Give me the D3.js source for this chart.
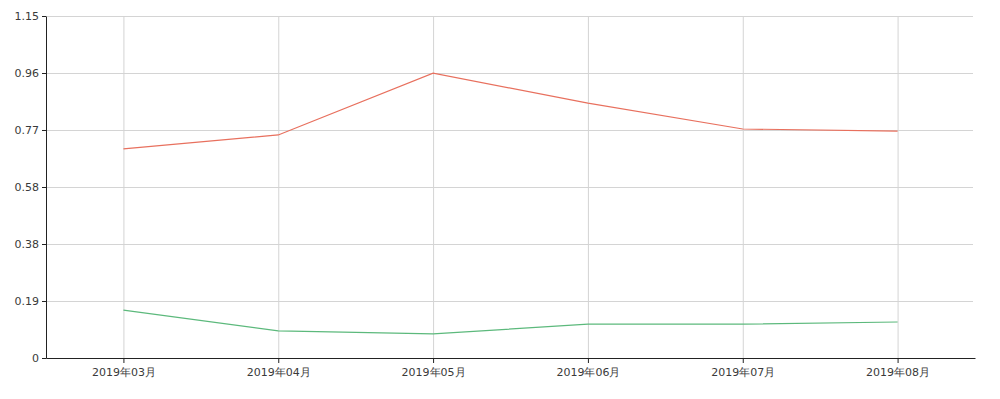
<!DOCTYPE html>
<html lang="zh">
<head>
<meta charset="UTF-8">
<title>Line chart</title>
<script src="https://d3js.org/d3.v7.min.js"></script>
<style>
    body { margin: 0; background: #fff; }
    .grid line { stroke: #d4d4d4; stroke-width: 1; }
    .grid path { display: none; }
    .axis text { fill: #3a3a3a; font-size: 11px; font-family: "DejaVu Sans", Verdana, sans-serif; }
    .axis path, .axis line { stroke: #222; }
</style>
</head>
<body>
<div id="chart"></div>
<script>
var months = ["2019年03月", "2019年04月", "2019年05月", "2019年06月", "2019年07月", "2019年08月"];
var redValues = [0.703, 0.750, 0.958, 0.857, 0.770, 0.763];
var greenValues = [0.161, 0.091, 0.081, 0.114, 0.114, 0.121];
var yTicks = [0, 0.1917, 0.3833, 0.575, 0.7667, 0.9583, 1.15];
var yLabels = ["0", "0.19", "0.38", "0.58", "0.77", "0.96", "1.15"];

var width = 1000, height = 399;
var margin = {top: 16, right: 25, bottom: 41, left: 46};

var svg = d3.select("#chart").append("svg")
    .attr("width", width)
    .attr("height", height);

var x = d3.scalePoint()
    .domain(months)
    .range([margin.left, width - margin.right])
    .padding(0.5);

var y = d3.scaleLinear()
    .domain([0, 1.15])
    .range([height - margin.bottom, margin.top]);

// horizontal grid
svg.append("g")
    .attr("class", "grid")
    .attr("transform", `translate(${margin.left},0)`)
    .call(d3.axisLeft(y).tickValues(yTicks).tickSize(-(width - margin.left - margin.right - 2)).tickFormat(""));

// vertical grid
svg.append("g")
    .attr("class", "grid")
    .attr("transform", `translate(0,${height - margin.bottom})`)
    .call(d3.axisBottom(x).tickSize(-(height - margin.top - margin.bottom)).tickFormat(""));

var line = d3.line()
    .x((d, i) => x(months[i]))
    .y(d => y(d));

svg.append("path")
    .datum(redValues)
    .attr("fill", "none")
    .attr("stroke", "#e8705e")
    .attr("stroke-width", 1.2)
    .attr("d", line);

svg.append("path")
    .datum(greenValues)
    .attr("fill", "none")
    .attr("stroke", "#5cb97c")
    .attr("stroke-width", 1.2)
    .attr("d", line);

svg.append("g")
    .attr("class", "axis")
    .attr("transform", `translate(0,${height - margin.bottom})`)
    .call(d3.axisBottom(x).tickSize(5).tickSizeOuter(0))
    .selectAll("text").attr("dy", "0.9em");

svg.append("g")
    .attr("class", "axis")
    .attr("transform", `translate(${margin.left},0)`)
    .call(d3.axisLeft(y).tickValues(yTicks).tickSize(4).tickSizeOuter(0)
        .tickFormat((d, i) => yLabels[i]));
</script>
</body>
</html>
